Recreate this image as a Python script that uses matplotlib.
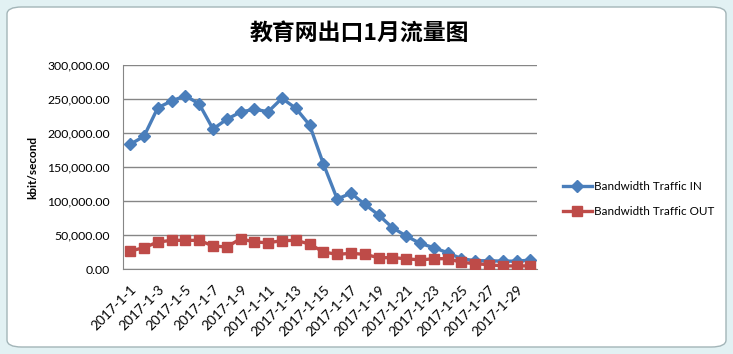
import matplotlib
matplotlib.use("Agg")
import matplotlib.pyplot as plt
from matplotlib.patches import FancyBboxPatch

W, H = 733, 354

dates = ["2017-1-%d" % d for d in range(1, 31)]
traffic_in = [183800, 195600, 237600, 247500, 255300, 243100, 206300, 220600,
              231300, 235300, 231800, 251500, 236800, 212200, 154900, 103400,
              111800, 95600, 79900, 61200, 49000, 38200, 31800, 24400, 15600,
              12600, 12600, 12000, 12000, 13500]
traffic_out = [26900, 31800, 40100, 42600, 42600, 42600, 34300, 32800, 45000,
               40100, 39100, 42100, 42600, 37200, 25400, 22000, 23500, 22000,
               17100, 17100, 15600, 13700, 15600, 15600, 10300, 8200, 6800,
               4900, 5000, 5000]
yticks = [0, 50000, 100000, 150000, 200000, 250000, 300000]

plt.rcParams["font.family"] = ["Lato", "DejaVu Sans"]

fig = plt.figure(figsize=(W / 100, H / 100), dpi=100)
fig.patch.set_facecolor("#E2F1F3")

# chart frame
frame = FancyBboxPatch((7 / W, 7 / H), 719 / W, 340 / H,
                       boxstyle="round,pad=0,rounding_size=0.02",
                       transform=fig.transFigure, facecolor="white",
                       edgecolor="#A3B5B8", linewidth=1.0, zorder=-5)
fig.patches.append(frame)

ax = fig.add_axes([123.3 / W, (H - 269.3) / H, 414 / W, 204 / H])
ax.set_facecolor("none")
ax.set_zorder(2)

x = list(range(len(dates)))
ax.plot(x, traffic_in, color="#4A7EBB", lw=2.4, marker="D", ms=6,
        label="Bandwidth Traffic IN", zorder=3)
ax.plot(x, traffic_out, color="#BE4B48", lw=2.4, marker="s", ms=7,
        label="Bandwidth Traffic OUT", zorder=3)

ax.set_xlim(-0.5, len(dates) - 0.5)
ax.set_ylim(0, 300000)
ax.set_yticks(yticks)
ax.set_yticklabels(["{:,.2f}".format(v) for v in yticks], fontsize=8.8)
ax.yaxis.grid(True, color="#868686", lw=1)
ax.set_axisbelow(True)
ax.tick_params(axis="y", length=0, pad=9.5)

ax.set_xticks(x[::2])
ax.set_xticklabels(dates[::2], rotation=45, ha="right", va="top",
                   rotation_mode="anchor", fontsize=9.8)
ax.tick_params(axis="x", length=0, pad=10)

for s in ["top", "right"]:
    ax.spines[s].set_visible(False)
ax.spines["left"].set_color("#868686")
ax.spines["bottom"].set_color("#868686")

ax.set_ylabel("kbit/second", fontsize=8.5, fontweight="bold", labelpad=7)

fig.text(359 / W, 1 - 33 / H, "教育网出口1月流量图", ha="center", va="center",
         fontsize=16.5, fontweight="bold",
         family=["Noto Sans CJK SC", "DejaVu Sans"])

fig.legend(loc="center left", bbox_to_anchor=(552 / W, 1 - 199 / H),
           frameon=False, fontsize=8.4, handlelength=2.5, labelspacing=1.2,
           handletextpad=0.2)

fig.savefig("out.png", dpi=100, facecolor=fig.get_facecolor())
